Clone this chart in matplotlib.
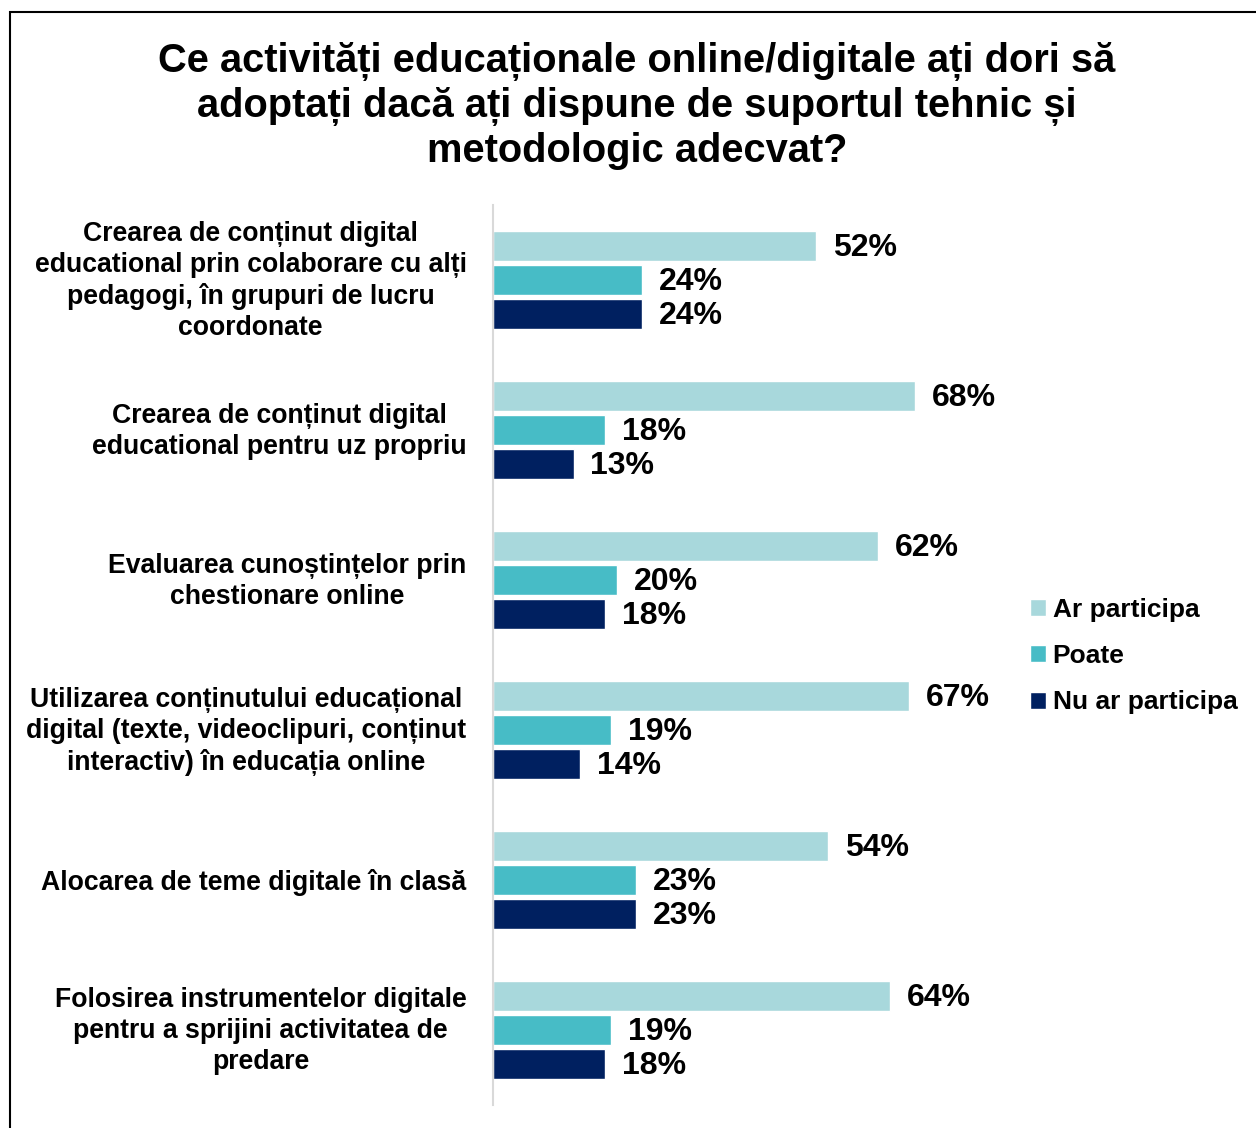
import numpy as np
import matplotlib.pyplot as plt
from matplotlib.patches import Rectangle
from matplotlib.transforms import ScaledTranslation

plt.rcParams['font.family'] = ['Liberation Sans', 'DejaVu Sans']
plt.rcParams['font.weight'] = 'bold'

title = ("Ce activități educaționale online/digitale ați dori să\n"
         "adoptați dacă ați dispune de suportul tehnic și\n"
         "metodologic adecvat?")

categories = [
    "Crearea de conținut digital\neducational prin colaborare cu alți\npedagogi, în grupuri de lucru\ncoordonate",
    "Crearea de conținut digital\neducational pentru uz propriu",
    "Evaluarea cunoștințelor prin\nchestionare online",
    "Utilizarea conținutului educațional\ndigital (texte, videoclipuri, conținut\ninteractiv) în educația online",
    "Alocarea de teme digitale în clasă",
    "Folosirea instrumentelor digitale\npentru a sprijini activitatea de\npredare",
]
series_names = ["Ar participa", "Poate", "Nu ar participa"]
ar_participa = [52, 68, 62, 67, 54, 64]
poate = [24, 18, 20, 19, 23, 19]
nu_ar_participa = [24, 13, 18, 14, 23, 18]
colors = ["#A8D8DC", "#47BCC6", "#002060"]

W, H = 1256, 1128
fig = plt.figure(figsize=(W / 100, H / 100), dpi=100)
ax = fig.add_axes([493 / W, 1 - 1105 / H, (1010 - 493) / W, (1105 - 205) / H])

y = np.arange(len(categories))
offsets = [-0.227, 0, 0.227]
for vals, off, col, name in zip([ar_participa, poate, nu_ar_participa], offsets, colors, series_names):
    bars = ax.barh(y + off, vals, height=0.2, color=col, edgecolor='white', linewidth=1, label=name)
    for b, v in zip(bars, vals):
        ax.text(v + 2.7, b.get_y() + b.get_height() / 2 + 0.012, f"{v}%", va='center', ha='left',
                fontsize=23, fontweight='bold')

ax.set_xlim(0, 517 / 6.21)
ax.set_ylim(len(categories) - 0.5, -0.5)
ax.set_yticks(y)
ax.set_yticklabels(categories, fontsize=19.2, fontweight='bold', multialignment='center',
                   linespacing=1.25)
ax.tick_params(axis='y', length=0, pad=19)
# multi-line labels sit a bit low, nudge them up
for lab in ax.get_yticklabels():
    if '\n' in lab.get_text():
        lab.set_transform(lab.get_transform() + ScaledTranslation(0, 3 / 72, fig.dpi_scale_trans))
ax.set_xticks([])
for s in ['top', 'right', 'bottom']:
    ax.spines[s].set_visible(False)
ax.spines['left'].set_color('#D9D9D9')
ax.spines['left'].set_linewidth(1.5)

fig.text(637 / W, 1 - 106 / H, title, ha='center', va='center', fontsize=28.7,
         fontweight='bold', linespacing=1.2)

fig.legend(loc='center left', bbox_to_anchor=(1017 / W, 1 - 656 / H), frameon=False,
           fontsize=19, handlelength=0.6, handleheight=0.6, handletextpad=0.25,
           labelspacing=0.85, borderpad=0)

fig.patches.append(Rectangle((10 / W, -0.05), 1.2, 1 - 12 / H + 0.05, transform=fig.transFigure,
                             fill=False, edgecolor='black', linewidth=1.5))

fig.savefig('out.png', dpi=100)
